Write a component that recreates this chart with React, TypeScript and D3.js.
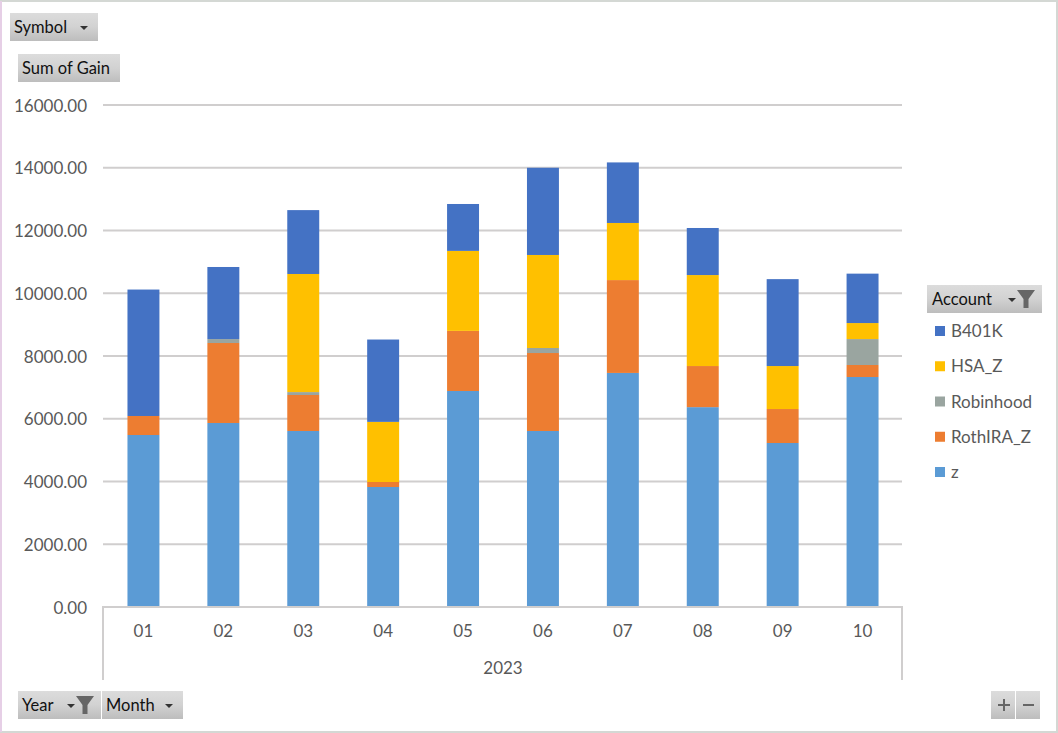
import React from "react";
import * as d3 from "d3";

const months = ["01", "02", "03", "04", "05", "06", "07", "08", "09", "10"];
const z = [5482, 5865, 5610, 3825, 6885, 5610, 7460, 6370, 5227, 7330];
const rothIRA = [606, 2549, 1147, 159, 1915, 2485, 2960, 1310, 1083, 383];
const robinhood = [0, 126, 93, 0, 0, 160, 0, 0, 0, 827];
const hsa = [0, 0, 3764, 1916, 2550, 2965, 1820, 2900, 1370, 510];
const b401k = [4030, 2297, 2036, 2625, 1495, 2780, 1930, 1500, 2770, 1575];
const yTicks = [0, 2000, 4000, 6000, 8000, 10000, 12000, 14000, 16000];
const stackKeys = ["z", "RothIRA_Z", "Robinhood", "HSA_Z", "B401K"];
const legendOrder = ["B401K", "HSA_Z", "Robinhood", "RothIRA_Z", "z"];
const colors: Record<string, string> = {
  z: "#5b9bd5",
  RothIRA_Z: "#ed7d31",
  Robinhood: "#9aa5a0",
  HSA_Z: "#ffc000",
  B401K: "#4472c4",
};

const font = "Lato, 'Open Sans', sans-serif";
const textGray = "#595959";
const gridGray = "#d0cece";

function Button({ x, y, w, label, arrow, filter, labelX }: any) {
  return (
    <g>
      <rect x={x} y={y} width={w} height={28} fill="url(#btn)" />
      <text x={x + (labelX ?? 4)} y={y + 20} fontSize={16.5} fontFamily={font} fill="#111">{label}</text>
      {arrow != null && <path d={`M${arrow - 4},${y + 13}h8l-4,4z`} fill="#333" />}
      {filter != null && (
        <path
          d={`M${filter - 9},${y + 5}h18l-6.5,9v9h-5v-9z`}
          fill="#666"
        />
      )}
    </g>
  );
}

export default function App() {
  const width = 1058;
  const height = 733;
  const x = d3.scaleBand<string>().domain(months).range([103.5, 902.5]).paddingInner(0.6).paddingOuter(0.3);
  const y = d3.scaleLinear().domain([0, 16000]).range([607, 105]);
  const rows = months.map((m, i) => ({
    month: m,
    z: z[i],
    RothIRA_Z: rothIRA[i],
    Robinhood: robinhood[i],
    HSA_Z: hsa[i],
    B401K: b401k[i],
  }));
  const series = d3.stack<any>().keys(stackKeys)(rows);
  const stepX = x.step();

  return (
    <svg width={width} height={height} style={{ position: "absolute", left: 0, top: 0, background: "#fff" }}>
      <defs>
        <linearGradient id="btn" x1="0" y1="0" x2="0" y2="1">
          <stop offset="0" stopColor="#dcdcdc" />
          <stop offset="0.5" stopColor="#d2d2d2" />
          <stop offset="1" stopColor="#bdbdbd" />
        </linearGradient>
      </defs>
      <rect x={1} y={1} width={width - 2} height={height - 2} fill="none" stroke="#d4d8d4" strokeWidth={2} />
      <line x1={1} y1={1} x2={1} y2={height - 1} stroke="#e6cfe6" strokeWidth={2} />

      {yTicks.map((t) => (
        <g key={t}>
          {t > 0 && <line x1={103} x2={902} y1={y(t)} y2={y(t)} stroke={gridGray} strokeWidth={2} />}
          <text x={87} y={y(t) + 6.5} textAnchor="end" fontSize={17} fontFamily={font} fill={textGray}>
            {t.toFixed(2)}
          </text>
        </g>
      ))}

      {series.map((s) => (
        <g key={s.key} fill={colors[s.key]}>
          {s.map((d, i) =>
            d[1] > d[0] ? (
              <rect
                key={i}
                x={x(months[i])!}
                width={x.bandwidth()}
                y={y(d[1])}
                height={y(d[0]) - y(d[1])}
              />
            ) : null
          )}
        </g>
      ))}

      <path d="M103,680V607H902V680" fill="none" stroke={gridGray} strokeWidth={2} />
      {months.map((m) => (
        <text
          key={m}
          x={x(m)! + x.bandwidth() / 2}
          y={637}
          textAnchor="middle"
          fontSize={17}
          fontFamily={font}
          fill={textGray}
        >
          {m}
        </text>
      ))}
      <text x={103.5 + stepX * 5} y={674} textAnchor="middle" fontSize={17} fontFamily={font} fill={textGray}>
        2023
      </text>

      <Button x={10} y={13} w={88} label="Symbol" arrow={84} />
      <Button x={18} y={54} w={102} label="Sum of Gain" />
      <Button x={927} y={285} w={115} label="Account" arrow={1012} filter={1026} labelX={5} />
      <Button x={18} y={691} w={83} label="Year" arrow={71} filter={85} />
      <Button x={102} y={691} w={81} label="Month" arrow={169} />

      {legendOrder.map((k, i) => (
        <g key={k}>
          <rect x={935} y={326 + i * 35.25} width={10} height={10} fill={colors[k]} />
          <text x={951} y={337 + i * 35.25} fontSize={17} fontFamily={font} fill={textGray}>
            {k}
          </text>
        </g>
      ))}

      <rect x={991} y={691} width={24} height={28} fill="url(#btn)" />
      <rect x={1016} y={691} width={24} height={28} fill="url(#btn)" />
      <path d="M998,705h12M1004,699v12" stroke="#666" strokeWidth={2} />
      <path d="M1023,705h11" stroke="#666" strokeWidth={2} />
    </svg>
  );
}
